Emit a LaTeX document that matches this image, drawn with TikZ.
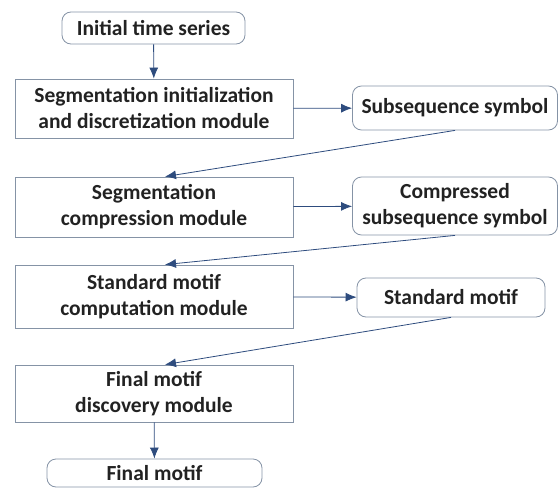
\documentclass[tikz,border=0pt]{standalone}
\usepackage{fontspec}
\setmainfont{Carlito}
\usetikzlibrary{arrows.meta, positioning}
\definecolor{bx}{HTML}{8593A6}
\definecolor{ar}{HTML}{2E4C7E}
\definecolor{tx}{HTML}{222222}
\begin{document}
\begin{tikzpicture}[x=1pt, y=-1pt,
	box/.style={draw=bx, thick, text=tx, font=\bfseries\fontsize{21.5}{26}\selectfont, align=center, inner sep=0pt},
	rbox/.style={box, rounded corners=9pt},
	flow/.style={draw=ar, thick, -{Latex[length=11pt, width=9pt]}}]
	\useasboundingbox (0, 0) rectangle (560, 490);
	
	\node[rbox, minimum width=183, minimum height=32] (init) at (153.5, 28) {Initial time series};
	\node[box, minimum width=278, minimum height=59] (seg) at (154, 108.5) {Segmentation initialization\\and discretization module};
	\node[box, minimum width=278, minimum height=60] (comp) at (154, 207) {Segmentation\\compression module};
	\node[box, minimum width=278, minimum height=63] (std) at (154, 296.5) {Standard motif\\computation module};
	\node[box, minimum width=278, minimum height=57] (fin) at (154, 393.5) {Final motif\\discovery module};
	\node[rbox, minimum width=215, minimum height=28] (final) at (154.5, 473) {Final motif};
	
	\node[rbox, minimum width=205, minimum height=44] (subsym) at (455, 108) {Subsequence symbol};
	\node[rbox, minimum width=205, minimum height=58] (compsym) at (455, 206) {Compressed\\subsequence symbol};
	\node[rbox, minimum width=188, minimum height=39] (stdmotif) at (451, 297.5) {Standard motif};
	
	\draw[flow] (init) -- (seg);
	\draw[flow] (seg) -- (subsym);
	\draw[flow] (subsym.south) -- ([xshift=11pt]comp.north);
	\draw[flow] (comp) -- (compsym);
	\draw[flow] (compsym.south) -- ([xshift=11pt]std.north);
	\draw[flow] (std) -- (stdmotif);
	\draw[flow] (stdmotif.south) -- ([xshift=11pt]fin.north);
	\draw[flow] (fin) -- (final);
\end{tikzpicture}
\end{document}
